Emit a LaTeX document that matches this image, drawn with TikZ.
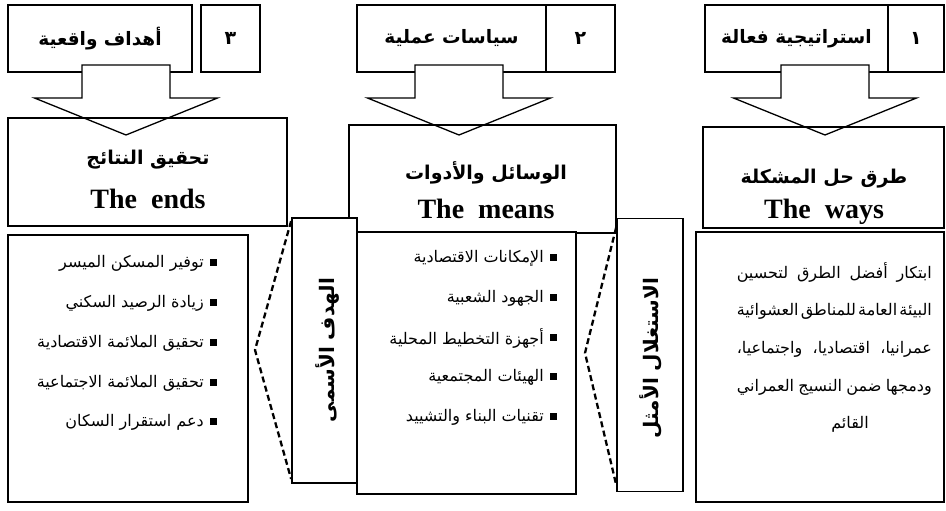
\documentclass[tikz,border=0pt]{standalone}
\usepackage{fontspec}
\usetikzlibrary{calc}
\setmainfont{Liberation Serif}
\newfontfamily\arabicfont[Script=Arabic]{DejaVu Sans}
\TeXXeTstate=1
\newcommand\artext[1]{{\arabicfont\beginR #1\endR}}
\begin{document}
\begin{tikzpicture}[x=1pt,y=-1pt,
  box/.style={draw, line width=1.8pt, fill=white, inner sep=0pt},
  openbox/.style={draw, line width=1.8pt, inner sep=0pt},
  barrow/.style={draw, line width=1.3pt, fill=white, line join=miter},
  dashline/.style={draw=black, line width=2.3pt, dash pattern=on 6pt off 3.5pt},
  hdr/.style={font=\arabicfont\bfseries\fontsize{18.5}{22}\selectfont, inner sep=0pt},
  num/.style={font=\arabicfont\bfseries\fontsize{19}{22}\selectfont, inner sep=0pt},
  ttlar/.style={font=\arabicfont\bfseries\fontsize{19}{22}\selectfont, inner sep=0pt},
  ttlen/.style={font=\bfseries\fontsize{28}{32}\selectfont, inner sep=0pt},
  vert/.style={font=\arabicfont\bfseries\fontsize{20}{24}\selectfont, inner sep=0pt, rotate=90},
  item/.style={font=\arabicfont\fontsize{16}{19}\selectfont, inner sep=0pt, anchor=east},
  para/.style={font=\arabicfont\fontsize{16}{19}\selectfont, inner sep=0pt, anchor=east},
  bullet/.style={fill=black}
]
\useasboundingbox (0,0) rectangle (946,511);

% header boxes
\node[box, minimum width=184pt, minimum height=67pt] (h3t) at (100,38.5) {};
\node[box, minimum width=59pt, minimum height=67pt] (h3n) at (230.5,38.5) {};
\node[box, minimum width=189pt, minimum height=67pt] (h2t) at (451.5,38.5) {};
\node[box, minimum width=69pt, minimum height=67pt] (h2n) at (580.5,38.5) {};
\node[box, minimum width=183pt, minimum height=67pt] (h1t) at (796.5,38.5) {};
\node[box, minimum width=56pt, minimum height=67pt] (h1n) at (916,38.5) {};

% block arrows
\coordinate (a3) at (126,65);
\coordinate (a2) at (459,65);
\coordinate (a1) at (825,65);
\foreach \a in {a3,a2,a1}{
  \draw[barrow] ($(\a)+(-44,0)$) -- ($(\a)+(-44,33)$) -- ($(\a)+(-91.5,33)$) -- ($(\a)+(0,70)$)
    -- ($(\a)+(91.5,33)$) -- ($(\a)+(44,33)$) -- ($(\a)+(44,0)$) -- cycle;
}

% title boxes
\node[openbox, minimum width=279pt, minimum height=108pt] (t3) at (147.5,172) {};
\node[openbox, minimum width=267pt, minimum height=108pt] (t2) at (482.5,179) {};
\node[openbox, minimum width=241pt, minimum height=101pt] (t1) at (823.5,177.5) {};

% vertical boxes
\node[box, minimum width=65pt, minimum height=265pt] (v3) at (324.5,350.5) {};
\node[box, minimum width=66pt, minimum height=273pt] (v2) at (650,355) {};

% body boxes
\node[box, minimum width=240pt, minimum height=267pt] (b3) at (128,368.5) {};
\node[box, minimum width=219pt, minimum height=262pt] (b2) at (466.5,363) {};
\node[box, minimum width=248pt, minimum height=270pt] (b1) at (820,367) {};

% dashed brackets
\coordinate (p3) at (255,350);
\coordinate (p2) at (585,353);
\draw[dashline] ([yshift=-4pt]v3.north west) -- (p3) -- ([yshift=5pt]v3.south west);
\draw[dashline] ([yshift=-10pt]v2.north west) -- (p2) -- ([yshift=8pt]v2.south west);

% header texts
\node[hdr] (h3tx) at (h3t.center) {\artext{أهداف واقعية}};
\node[num] (h3nx) at (h3n.center) {\artext{٣}};
\node[hdr] (h2tx) at (h2t.center) {\artext{سياسات عملية}};
\node[num] (h2nx) at (h2n.center) {\artext{٢}};
\node[hdr] (h1tx) at (h1t.center) {\artext{استراتيجية فعالة}};
\node[num] (h1nx) at (h1n.center) {\artext{١}};

% title texts
\node[ttlar] (t3a) at (148,160) {\artext{تحقيق النتائج}};
\node[ttlen] (t3b) at (148,199) {The\ \ ends};
\node[ttlar] (t2a) at (486,173) {\artext{الوسائل والأدوات}};
\node[ttlen] (t2b) at (486,209) {The\ \ means};
\node[ttlar] (t1a) at (824,179) {\artext{طرق حل المشكلة}};
\node[ttlen] (t1b) at (824,212) {The\ \ ways};

% vertical texts
\node[vert] (v3x) at (327,350) {\artext{الهدف الأسمى}};
\node[vert] (v2x) at (651,358) {\artext{الاستغلال الأمثل}};

% left list
\foreach \y/\t [count=\i] in {262/توفير المسكن الميسر, 302/زيادة الرصيد السكني, 342/تحقيق الملائمة الاقتصادية, 382/تحقيق الملائمة الاجتماعية, 421/دعم استقرار السكان}{
  \fill[bullet] (209.5,\y-3.5) rectangle (216.5,\y+3.5);
  \node[item] (l\i) at (204,\y+1) {\artext{\t}};
}
% middle list
\foreach \y/\t [count=\i] in {257/الإمكانات الاقتصادية, 297/الجهود الشعبية, 337/أجهزة التخطيط المحلية, 376/الهيئات المجتمعية, 416/تقنيات البناء والتشييد}{
  \fill[bullet] (549.5,\y-3.5) rectangle (556.5,\y+3.5);
  \node[item] (m\i) at (544,\y+1) {\artext{\t}};
}
% right paragraph
\node[para] (r1) at (932,272) {\hbox to 195pt{\arabicfont\beginR ابتكار\hfill أفضل\hfill الطرق\hfill لتحسين\endR}};
\node[para] (r2) at (932,311) {\hbox to 195pt{\arabicfont\beginR البيئة\hfill العامة\hfill للمناطق\hfill العشوائية\endR}};
\node[para] (r3) at (932,349) {\hbox to 195pt{\arabicfont\beginR عمرانيا،\hfill اقتصاديا،\hfill واجتماعيا،\endR}};
\node[para] (r4) at (932,387) {\hbox to 195pt{\arabicfont\beginR ودمجها\hfill ضمن\hfill النسيج\hfill العمراني\endR}};
\node[para, anchor=center] (r5) at (850,424) {\artext{القائم}};
\end{tikzpicture}
\end{document}
